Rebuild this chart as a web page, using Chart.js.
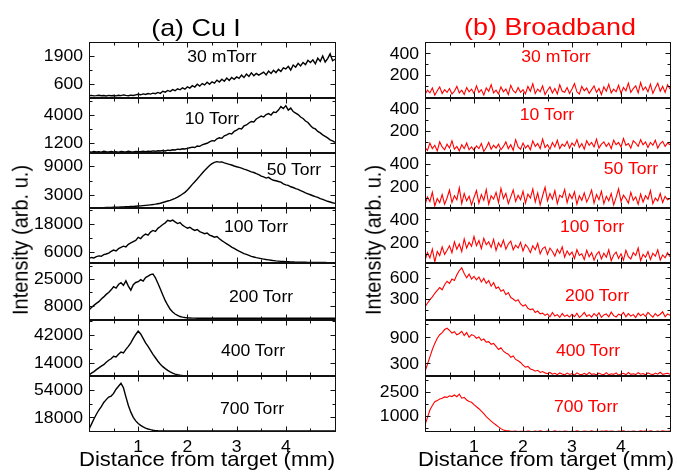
<!DOCTYPE html>
<html>
<head>
<meta charset="utf-8">
<script src="https://cdn.jsdelivr.net/npm/chart.js@4.4.1/dist/chart.umd.min.js"></script>
<style>
  html, body { margin: 0; padding: 0; background: #fff; }
  #stage { position: relative; width: 677px; height: 475px; overflow: hidden; font-family: "Liberation Sans", Arial, sans-serif; }
  #stage canvas { position: absolute; }
  .txt { position: absolute; white-space: nowrap; line-height: 1; }
</style>
</head>
<body>
<div id="stage"></div>
<script>
// --- data ---
const DIST = [
  0, 0.05, 0.1, 0.15, 0.2, 0.25, 0.3, 0.35, 0.4, 0.45,
  0.5, 0.55, 0.6, 0.65, 0.7, 0.75, 0.8, 0.85, 0.9, 0.95,
  1, 1.05, 1.1, 1.15, 1.2, 1.25, 1.3, 1.35, 1.4, 1.45,
  1.5, 1.55, 1.6, 1.65, 1.7, 1.75, 1.8, 1.85, 1.9, 1.95,
  2, 2.05, 2.1, 2.15, 2.2, 2.25, 2.3, 2.35, 2.4, 2.45,
  2.5, 2.55, 2.6, 2.65, 2.7, 2.75, 2.8, 2.85, 2.9, 2.95,
  3, 3.05, 3.1, 3.15, 3.2, 3.25, 3.3, 3.35, 3.4, 3.45,
  3.5, 3.55, 3.6, 3.65, 3.7, 3.75, 3.8, 3.85, 3.9, 3.95,
  4, 4.05, 4.1, 4.15, 4.2, 4.25, 4.3, 4.35, 4.4, 4.45,
  4.5, 4.55, 4.6, 4.65, 4.7, 4.75, 4.8, 4.85, 4.9, 4.95,
  5
];
const DIST_TICKS = [1, 2, 3, 4];
const DIST_MINOR = [0.5, 1.5, 2.5, 3.5, 4.5];
const PRESSURES = ['30 mTorr', '10 Torr', '50 Torr', '100 Torr', '200 Torr', '400 Torr', '700 Torr'];

// (a) Cu I
const CU_30MTORR = [
  55, 70, 48, 62, 80, 52, 66, 45, 73, 58,
  64, 50, 78, 60, 92, 70, 55, 84, 68, 96,
  120, 98, 140, 115, 160, 130, 175, 150, 210, 165,
  260, 220, 300, 250, 340, 290, 380, 330, 420, 360,
  470, 410, 520, 460, 590, 500, 620, 560, 680, 590,
  700, 640, 780, 690, 820, 730, 880, 760, 900, 820,
  930, 860, 1010, 900, 1060, 950, 1120, 980, 1090, 1010,
  1080, 1150, 1020, 1200, 1090, 1240, 1130, 1280, 1180, 1350,
  1300, 1420, 1250, 1480, 1380, 1560, 1440, 1600, 1500, 1700,
  1600, 1720, 1540, 1800, 1650, 1900, 1620, 1780, 2000, 1680,
  1750
];
const CU_10TORR = [
  300, 260, 330, 280, 310, 250, 340, 290, 270, 320,
  280, 310, 260, 330, 290, 270, 350, 300, 280, 320,
  310, 290, 340, 300, 360, 320, 380, 340, 400, 370,
  420, 380, 460, 430, 500, 470, 560, 520, 600, 580,
  640, 700, 760, 720, 880, 840, 1000, 1080, 1150, 1300,
  1420, 1380, 1600, 1700, 1650, 1900, 2000, 2150, 2100, 2350,
  2480, 2650, 2600, 2900, 3000, 3200, 3350, 3300, 3600, 3750,
  3900, 3800, 4050, 4150, 4000, 4300, 4250, 4500, 4850, 4650,
  4950, 4500, 4700, 4350, 4200, 4050, 3800, 3650, 3400, 3250,
  2950, 2700, 2600, 2350, 2200, 2000, 1850, 1700, 1500, 1400,
  1250
];
const CU_50TORR = [
  320, 330, 340, 350, 360, 380, 390, 400, 420, 430,
  450, 470, 490, 510, 540, 560, 590, 620, 650, 680,
  720, 760, 800, 850, 900, 960, 1020, 1100, 1200, 1300,
  1450, 1600, 1750, 1900, 2100, 2300, 2550, 2850, 3200, 3550,
  4050, 4600, 5200, 5750, 6300, 6900, 7500, 8050, 8600, 9100,
  9500, 9750, 9900, 9800, 9850, 9650, 9500, 9350, 9200, 9000,
  8850, 8700, 8550, 8350, 8200, 8000, 7800, 7650, 7400, 7200,
  6900, 6750, 6500, 6650, 6300, 6050, 5950, 5800, 5650, 5300,
  5100, 5000, 4700, 4550, 4300, 4150, 3900, 3700, 3450, 3250,
  3050, 2850, 2650, 2500, 2250, 2100, 1900, 1700, 1550, 1400,
  1280
];
const CU_100TORR = [
  3100, 3500, 3300, 3900, 4200, 4000, 4700, 5000, 5400, 6100,
  6700, 6300, 7300, 7900, 8400, 8100, 9200, 9800, 10400, 10900,
  12200, 11700, 12900, 13600, 13200, 14500, 15200, 14800, 16100, 16900,
  17800, 18500, 19600, 19200, 19700, 18900, 18200, 18600, 17500, 16800,
  16200, 16600, 15800, 15200, 15600, 14700, 14300, 13800, 14100, 13200,
  12800, 12300, 12600, 11600, 10800, 10100, 9400, 8700, 8000, 7400,
  6800, 6200, 5700, 5200, 4800, 4400, 4000, 3700, 3400, 3200,
  3000, 2800, 2600, 2450, 2300, 2150, 2000, 1900, 1800, 1750,
  1700, 1650, 1600, 1550, 1500, 1480, 1450, 1420, 1400, 1380,
  1360, 1350, 1340, 1320, 1310, 1300, 1290, 1280, 1270, 1260,
  1250
];
const CU_200TORR = [
  5300, 6800, 8200, 9500, 10600, 12300, 13600, 15200, 16400, 18100,
  20100, 19200, 21500, 22600, 21000, 23800, 20500, 17900, 21400, 22800,
  23300, 24600, 23700, 25900, 26800, 27800, 28200, 25800, 22300, 18600,
  14800, 11200, 8300, 5700, 4000, 2700, 1800, 1100, 700, 450,
  300, 200, 120, 80, 50, 30, 20, 10, 0, 0,
  0, 0, 0, 0, 0, 0, 0, 0, 0, 0,
  0, 0, 0, 0, 0, 0, 0, 0, 0, 0,
  0, 0, 0, 0, 0, 0, 0, 0, 0, 0,
  0, 0, 0, 0, 0, 0, 0, 0, 0, 0,
  0, 0, 0, 0, 0, 0, 0, 0, 0, 0,
  0
];
const CU_400TORR = [
  1500, 3500, 5000, 7000, 8800, 10500, 12000, 14500, 16500, 18000,
  20500, 19800, 22500, 24800, 24000, 27500, 30500, 34000, 38500, 42500,
  46000, 43000, 38500, 34000, 30500, 26500, 22500, 19000, 15500, 12500,
  10000, 8000, 6200, 4700, 3400, 2500, 1800, 1300, 1000, 800,
  600, 600, 600, 600, 600, 600, 600, 600, 600, 600,
  600, 600, 600, 600, 600, 600, 600, 600, 600, 600,
  600, 600, 600, 600, 600, 600, 600, 600, 600, 600,
  600, 600, 600, 600, 600, 600, 600, 600, 600, 600,
  600, 600, 600, 600, 600, 600, 600, 600, 600, 600,
  600, 600, 600, 600, 600, 600, 600, 600, 600, 600,
  600
];
const CU_700TORR = [
  2200, 9000, 15800, 22000, 27600, 32000, 37500, 41300, 44800, 46000,
  49500, 55000, 59000, 62800, 57000, 45000, 33500, 24800, 18000, 13300,
  9800, 7300, 5300, 3800, 2600, 1700, 1000, 500, 250, 100,
  0, 0, 0, 0, 0, 0, 0, 0, 0, 0,
  0, 0, 0, 0, 0, 0, 0, 0, 0, 0,
  0, 0, 0, 0, 0, 0, 0, 0, 0, 0,
  0, 0, 0, 0, 0, 0, 0, 0, 0, 0,
  0, 0, 0, 0, 0, 0, 0, 0, 0, 0,
  0, 0, 0, 0, 0, 0, 0, 0, 0, 0,
  0, 0, 0, 0, 0, 0, 0, 0, 0, 0,
  0
];

// (b) Broadband
const BB_30MTORR = [
  20, 60, 35, 80, 15, 55, 90, 30, 65, 40,
  75, 25, 50, 95, 35, 60, 20, 85, 45, 70,
  30, 100, 40, 65, 15, 80, 50, 110, 35, 60,
  25, 90, 45, 70, 20, 105, 55, 35, 85, 40,
  65, 25, 95, 50, 120, 30, 70, 45, 100, 20,
  60, 90, 35, 75, 25, 110, 50, 40, 85, 30,
  70, 120, 45, 25, 95, 55, 80, 30, 65, 100,
  40, 75, 20, 90, 50, 115, 35, 70, 45, 105,
  30, 85, 55, 125, 40, 75, 100, 35, 130, 60,
  90, 45, 115, 30, 80, 125, 50, 95, 40, 110,
  70
];
const BB_10TORR = [
  50, 25, 90, 40, 70, 20, 100, 55, 30, 80,
  45, 110, 35, 60, 20, 75, 40, 90, 30, 55,
  25, 65, 40, 85, 15, 50, 95, 35, 70, 45,
  80, 30, 60, 100, 40, 75, 25, 120, 55, 35,
  90, 45, 70, 30, 110, 60, 85, 40, 125, 50,
  75, 35, 95, 55, 115, 40, 80, 60, 105, 45,
  90, 65, 120, 50, 85, 35, 110, 70, 95, 55,
  125, 45, 80, 100, 60, 90, 40, 115, 75, 95,
  55, 130, 70, 85, 45, 110, 90, 60, 120, 75,
  100, 50, 95, 70, 115, 45, 85, 105, 60, 90,
  75
];
const BB_50TORR = [
  40, 110, 70, 150, 30, 95, 60, 130, 45, 100,
  170, 60, 120, 85, 190, 50, 140, 75, 115, 40,
  105, 165, 55, 130, 80, 175, 45, 120, 90, 150,
  60, 185, 95, 140, 50, 110, 170, 70, 125, 85,
  160, 55, 135, 100, 180, 65, 145, 40, 120, 195,
  75, 140, 90, 165, 50, 125, 105, 175, 60, 135,
  95, 155, 45, 120, 80, 145, 65, 110, 170, 55,
  130, 85, 160, 50, 115, 75, 140, 40, 105, 180,
  70, 125, 95, 55, 150, 80, 110, 45, 135, 65,
  120, 90, 165, 50, 100, 75, 140, 60, 115, 85,
  95
];
const BB_100TORR = [
  40, 110, 65, 140, 30, 120, 85, 160, 95, 130,
  170, 110, 205, 140, 185, 120, 230, 150, 200, 165,
  250, 170, 215, 145, 235, 180, 205, 155, 225, 130,
  195, 160, 220, 140, 185, 210, 135, 175, 150, 200,
  125, 180, 155, 110, 170, 135, 190, 100, 145, 160,
  95, 150, 120, 80, 140, 105, 160, 70, 125, 90,
  115, 60, 135, 85, 100, 50, 130, 75, 110, 45,
  95, 120, 55, 105, 70, 135, 40, 90, 115, 60,
  100, 45, 130, 75, 55, 110, 85, 150, 40, 95,
  70, 120, 50, 105, 80, 135, 45, 90, 65, 110,
  75
];
const BB_200TORR = [
  190, 240, 290, 330, 380, 420, 460, 430, 500, 550,
  520, 580, 560, 640, 700, 740, 660, 600, 650, 580,
  620, 570, 610, 540, 590, 520, 560, 480, 530, 450,
  470, 410, 430, 360, 390, 320, 300, 270, 290, 230,
  200, 220, 170, 150, 160, 110, 130, 90, 100, 70,
  90, 50, 110, 60, 80, 40, 95, 55, 75, 45,
  85, 50, 100, 40, 70, 110, 55, 80, 45, 95,
  60, 105, 40, 75, 90, 50, 115, 65, 45, 85,
  70, 110, 50, 95, 60, 80, 40, 100, 65, 90,
  55, 110, 75, 45, 95, 60, 85, 120, 50, 90,
  70
];
const BB_400TORR = [
  110, 280, 450, 620, 760, 880, 960, 1010, 1080, 1110,
  1060, 1000, 1030, 960, 990, 1040, 940, 1010, 900, 960,
  940, 880, 910, 830, 860, 790, 800, 740, 760, 690,
  620, 660, 580, 540, 510, 440, 470, 390, 360, 320,
  260, 210, 230, 170, 150, 120, 140, 90, 110, 80,
  60, 90, 50, 70, 40, 80, 55, 35, 75, 45,
  65, 30, 80, 50, 40, 70, 35, 90, 45, 60,
  30, 75, 50, 40, 85, 35, 60, 45, 80, 30,
  55, 70, 35, 90, 45, 60, 40, 85, 50, 65,
  35, 80, 55, 40, 75, 50, 95, 45, 60, 70,
  50
];
const BB_700TORR = [
  450, 900, 1370, 1650, 1880, 1950, 2050, 2100, 2180, 2150,
  2250, 2200, 2300, 2190, 2350, 2100, 2150, 1990, 1900, 1850,
  1700, 1570, 1450, 1300, 1150, 960, 820, 680, 560, 445,
  330, 220, 136, 100, 80, 60, 50, 70, 40, 55,
  60, 40, 75, 50, 35, 65, 45, 80, 55, 40,
  70, 50, 35, 85, 45, 60, 40, 75, 55, 30,
  65, 45, 80, 50, 35, 70, 55, 40, 90, 45,
  60, 35, 75, 50, 85, 40, 65, 55, 30, 70,
  50, 80, 45, 60, 35, 75, 55, 40, 85, 50,
  65, 40, 90, 55, 45, 70, 35, 80, 60, 50,
  65
];

// tick labels per panel (top to bottom)
const CU_TICKS = [[600, 1900], [1200, 4000], [3000, 9000], [6000, 18000], [8000, 25000], [14000, 42000], [18000, 54000]];
const BB_TICKS = [[200, 400], [200, 400], [200, 400], [200, 400], [300, 600], [300, 900], [1000, 2500]];
// y ranges per panel
const CU_RANGE = [[-50, 2550], [170, 5720], [310, 11690], [1100, 24930], [-1100, 35190], [550, 57160], [-1370, 72450]];
const BB_RANGE = [[-12, 504], [1, 492], [12, 497], [20, 498], [4, 807], [8, 1300], [13, 3470]];

const CU_SERIES = [CU_30MTORR, CU_10TORR, CU_50TORR, CU_100TORR, CU_200TORR, CU_400TORR, CU_700TORR];
const BB_SERIES = [BB_30MTORR, BB_10TORR, BB_50TORR, BB_100TORR, BB_200TORR, BB_400TORR, BB_700TORR];

// --- layout ---
const FONT = '"Liberation Sans", Arial, sans-serif';
const PANEL_EDGES = [42, 98, 153, 208, 263, 320, 376, 432];
const COLS = [
  { left: 0, width: 340, plotLeft: 89, plotRight: 336, color: '#000000', lineWidth: 1.4, series: CU_SERIES, ticks: CU_TICKS, range: CU_RANGE,
    labelPos: [[222, 63], [212, 125], [294, 176], [256, 233], [261, 303], [253, 357], [252, 415]], labelColor: '#000' },
  { left: 340, width: 337, plotLeft: 425, plotRight: 671, color: '#ff0000', lineWidth: 1.1, series: BB_SERIES, ticks: BB_TICKS, range: BB_RANGE,
    labelPos: [[556, 63], [547, 121], [631, 175], [592, 233], [597, 302], [588, 357], [586, 413]], labelColor: '#ff0000' }
];
const STRETCH = 1.1;

const stage = document.getElementById('stage');

function addText(text, cx, baseline, size, color, stretch) {
  const d = document.createElement('div');
  d.className = 'txt';
  d.textContent = text;
  d.style.fontSize = size + 'px';
  d.style.color = color;
  d.style.left = cx + 'px';
  d.style.top = (baseline - 0.8465 * size) + 'px';
  d.style.transform = 'translateX(-50%) scaleX(' + stretch + ')';
  stage.appendChild(d);
}

function addVText(text, cx, cy, size, color, stretch) {
  const d = document.createElement('div');
  d.className = 'txt';
  d.textContent = text;
  d.style.fontSize = size + 'px';
  d.style.color = color;
  d.style.left = cx + 'px';
  d.style.top = cy + 'px';
  d.style.transform = 'translate(-50%, -50%) rotate(-90deg) scaleY(' + stretch + ')';
  stage.appendChild(d);
}

// frame, inward ticks and tick labels, placed through the chart's scales
const framePlugin = {
  id: 'frame',
  afterDatasetsDraw(chart, args, opts) {
    const { ctx, chartArea: a, scales: { x, y } } = chart;
    const L = Math.round(a.left) + 0.5, R = Math.round(a.right) - 0.5;
    const T = Math.round(a.top) + 0.5, B = Math.round(a.bottom) - 0.5;
    ctx.save();
    ctx.strokeStyle = '#111';
    ctx.lineWidth = 1;
    ctx.strokeRect(L, T, R - L, B - T);
    ctx.beginPath();
    const tickX = (v, len) => {
      const px = Math.round(x.getPixelForValue(v)) + 0.5;
      ctx.moveTo(px, B); ctx.lineTo(px, B - len);
      ctx.moveTo(px, T); ctx.lineTo(px, T + len);
    };
    const tickY = (v, len) => {
      const py = Math.round(y.getPixelForValue(v)) + 0.5;
      ctx.moveTo(L, py); ctx.lineTo(L + len, py);
      ctx.moveTo(R, py); ctx.lineTo(R - len, py);
    };
    DIST_TICKS.forEach(v => tickX(v, 5));
    DIST_MINOR.forEach(v => tickX(v, 3));
    const t = opts.ticks, step = t[1] - t[0];
    t.forEach(v => tickY(v, 5));
    for (let v = t[0] - step / 2; v < y.max; v += step) {
      if (v > y.min && v < y.max) tickY(v, 3);
    }
    ctx.stroke();

    ctx.fillStyle = '#000';
    ctx.font = '16px ' + FONT;
    ctx.textAlign = 'right';
    ctx.textBaseline = 'middle';
    t.forEach(v => {
      ctx.save();
      ctx.translate(a.left - 6, y.getPixelForValue(v) + 1);
      ctx.scale(STRETCH, 1);
      ctx.fillText(String(v), 0, 0);
      ctx.restore();
    });
    if (opts.showX) {
      ctx.textAlign = 'center';
      ctx.textBaseline = 'alphabetic';
      DIST_TICKS.forEach(v => {
        ctx.save();
        ctx.translate(x.getPixelForValue(v), a.bottom + 20);
        ctx.scale(STRETCH, 1);
        ctx.fillText(String(v), 0, 0);
        ctx.restore();
      });
    }
    ctx.restore();
  }
};

COLS.forEach(col => {
  col.series.forEach((vals, i) => {
    const last = i === col.series.length - 1;
    const top = PANEL_EDGES[i] - 2;
    const panelH = PANEL_EDGES[i + 1] - PANEL_EDGES[i];
    const extra = last ? 28 : 0;
    const cv = document.createElement('canvas');
    cv.width = col.width;
    cv.height = panelH + 4 + extra;
    cv.style.left = col.left + 'px';
    cv.style.top = top + 'px';
    cv.style.width = col.width + 'px';
    cv.style.height = (panelH + 4 + extra) + 'px';
    stage.appendChild(cv);

    new Chart(cv.getContext('2d'), {
      type: 'line',
      data: {
        datasets: [{
          label: PRESSURES[i],
          data: DIST.map((d, k) => ({ x: d, y: vals[k] })),
          borderColor: col.color,
          borderWidth: col.lineWidth,
          pointRadius: 0,
          tension: 0,
          fill: false
        }]
      },
      options: {
        responsive: false,
        animation: false,
        events: [],
        layout: { padding: { left: col.plotLeft - col.left, right: col.left + col.width - col.plotRight, top: 2, bottom: 2 + extra } },
        plugins: {
          legend: { display: false },
          tooltip: { enabled: false },
          frame: { ticks: col.ticks[i], showX: last }
        },
        scales: {
          x: { type: 'linear', min: 0, max: 5.02, display: false },
          y: { type: 'linear', min: col.range[i][0], max: col.range[i][1], display: false }
        }
      },
      plugins: [framePlugin]
    });

    addText(PRESSURES[i], col.labelPos[i][0], col.labelPos[i][1], 16, col.labelColor, STRETCH);
  });
});

// titles and axis titles
addText('(a) Cu I', 196, 36, 24, '#000', 1.12);
addText('(b) Broadband', 550, 35, 24, '#ff0000', 1.12);
addText('Distance from target (mm)', 207, 466, 21, '#000', 1.05);
addText('Distance from target (mm)', 546, 466, 21, '#000', 1.05);
addVText('Intensity (arb. u.)', 20, 240, 20, '#000', 1.12);
addVText('Intensity (arb. u.)', 373, 240, 20, '#000', 1.12);
</script>
</body>
</html>
